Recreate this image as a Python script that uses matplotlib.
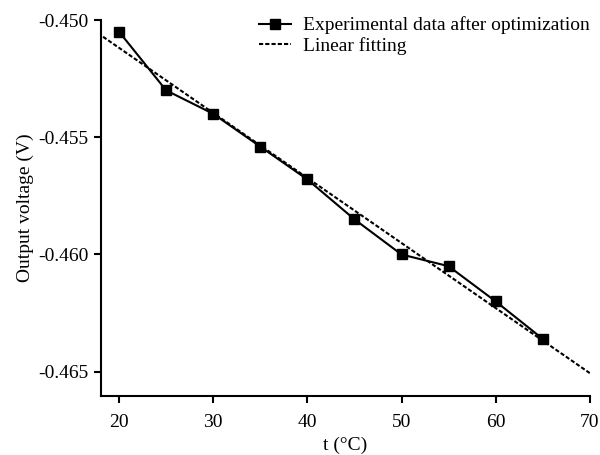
import numpy as np
import matplotlib
matplotlib.use("Agg")
import matplotlib.pyplot as plt

plt.rcParams['font.family'] = ['Liberation Serif', 'DejaVu Serif']

temps = [20, 25, 30, 35, 40, 45, 50, 55, 60, 65]
voltage = [-0.4505, -0.4530, -0.4540, -0.4554, -0.4568, -0.4585, -0.4600, -0.4605, -0.4620, -0.4636]
x_ticks = [20, 30, 40, 50, 60, 70]
y_ticks = [-0.450, -0.455, -0.460, -0.465]
y_tick_labels = ['-0.450', '-0.455', '-0.460', '-0.465']

fig = plt.figure(figsize=(6, 4.55), dpi=100)
ax = fig.add_axes([0.168, 0.130, 0.815, 0.826])

slope, intercept = np.polyfit(temps, voltage, 1)
fit_x = np.array([18.3, 70.0])
fit_y = slope * fit_x + intercept

ax.plot(temps, voltage, color='black', lw=1.5, marker='s', markersize=7.5,
        label='Experimental data after optimization', zorder=3)
ax.plot(fit_x, fit_y, color='black', lw=1.5, linestyle=(0, (2, 1)),
        label='Linear fitting', zorder=2)

ax.set_xlim(18.06, 70)
ax.set_ylim(-0.46603, -0.4500)
ax.set_xticks(x_ticks)
ax.set_yticks(y_ticks)
ax.set_yticklabels(y_tick_labels)
ax.tick_params(direction='out', length=5, width=1.5, labelsize=14)
ax.tick_params(axis='x', pad=8)
ax.tick_params(axis='y', pad=4)
for s in ['top', 'right']:
    ax.spines[s].set_visible(False)
for s in ['left', 'bottom']:
    ax.spines[s].set_linewidth(1.5)

ax.set_xlabel('t (°C)', fontsize=14, labelpad=4)
ax.set_ylabel('Output voltage (V)', fontsize=14, labelpad=3)

ax.legend(loc='upper right', frameon=False, fontsize=14, handlelength=1.65,
          handletextpad=0.6, labelspacing=0.15, borderaxespad=0.0,
          bbox_to_anchor=(1.015, 1.03))

fig.savefig('out.png', dpi=100)
